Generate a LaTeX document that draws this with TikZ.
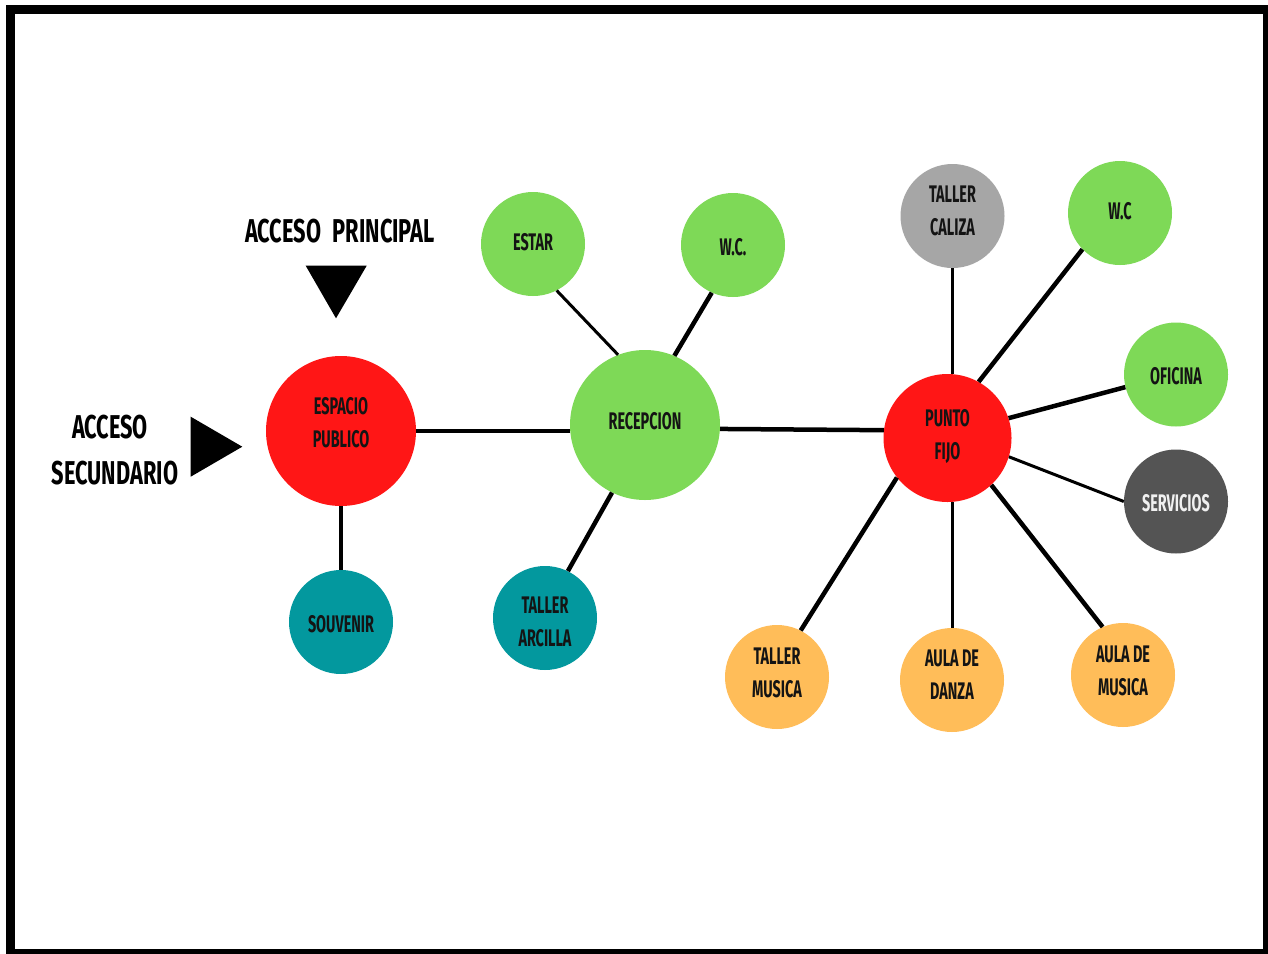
\documentclass[tikz,border=0pt]{standalone}
\usepackage{fontspec}
\newfontfamily\labfont{Fira Sans}[FakeStretch=0.6]
\newfontfamily\headfont{Fira Sans}[FakeStretch=0.66]
\definecolor{cred}{HTML}{FF1616}
\definecolor{cgreen}{HTML}{7ED957}
\definecolor{cteal}{HTML}{03989E}
\definecolor{cgray}{HTML}{A6A6A6}
\definecolor{cdark}{HTML}{545454}
\definecolor{corange}{HTML}{FFBD59}
\definecolor{ctext}{HTML}{141414}
\tikzset{
  bub/.style={circle, inner sep=0pt, fill=#1, draw=none},
  bigb/.style={minimum size=150pt},
  midb/.style={minimum size=128pt},
  smallb/.style={minimum size=104pt},
  lab/.style={inner sep=0pt, align=center, text=ctext, font=\labfont\bfseries\fontsize{24}{33}\selectfont},
  head/.style={inner sep=0pt, align=center, text=black, font=\headfont\bfseries\fontsize{33}{46}\selectfont},
  thin/.style={line width=3pt, black},
  thick/.style={line width=4.5pt, black},
  tri/.style={fill=black, draw=none}
}
\begin{document}
\begin{tikzpicture}[x=1pt, y=-1pt]
\useasboundingbox (0,0) rectangle (1268,953);
\fill[white] (0,0) rectangle (1268,953);
\draw[line width=9pt] (10.5,9) rectangle (1267.5,953.5);

% circles
\node[bub=cred, bigb] (esp) at (341,431) {};
\node[bub=cteal, smallb] (souv) at (341,622) {};
\node[bub=cgreen, bigb] (rec) at (645,425) {};
\node[bub=cgreen, smallb] (estar) at (533,244) {};
\node[bub=cgreen, smallb] (wc1) at (733,245) {};
\node[bub=cteal, smallb] (arc) at (545,618) {};
\node[bub=cred, midb] (pf) at (947.5,438) {};
\node[bub=cgray, smallb] (cal) at (952.5,216) {};
\node[bub=cgreen, smallb] (wc2) at (1120,213) {};
\node[bub=cgreen, smallb] (ofi) at (1176,374.5) {};
\node[bub=cdark, smallb] (serv) at (1176,501.5) {};
\node[bub=corange, smallb] (tmus) at (777,677) {};
\node[bub=corange, smallb] (danza) at (952,680) {};
\node[bub=corange, smallb] (amus) at (1123,675) {};

% labels
\node[lab] (esp-t) at ([yshift=8pt]esp) {ESPACIO\\PUBLICO};
\node[lab] (souv-t) at ([yshift=-2pt]souv) {SOUVENIR};
\node[lab] (rec-t) at ([yshift=4pt]rec) {RECEPCION};
\node[lab] (estar-t) at ([yshift=2pt]estar) {ESTAR};
\node[lab] (wc1-t) at ([yshift=-2pt]wc1) {W.C.};
\node[lab] (arc-t) at ([yshift=-4pt]arc) {TALLER\\ARCILLA};
\node[lab] (pf-t) at ([yshift=1pt]pf) {PUNTO\\FIJO};
\node[lab] (cal-t) at ([yshift=5pt]cal) {TALLER\\CALIZA};
\node[lab] (wc2-t) at ([yshift=2pt]wc2) {W.C};
\node[lab] (ofi-t) at ([yshift=-1.5pt]ofi) {OFICINA};
\node[lab, text=white!94!black] (serv-t) at ([yshift=-1.5pt]serv) {SERVICIOS};
\node[lab] (tmus-t) at ([yshift=4pt]tmus) {TALLER\\MUSICA};
\node[lab] (danza-t) at ([yshift=5pt]danza) {AULA DE\\DANZA};
\node[lab] (amus-t) at ([yshift=4pt]amus) {AULA DE\\MUSICA};

% headings and access markers
\node[head] (ap) at (340,231) {ACCESO\hspace{0.35em}PRINCIPAL};
\node[head] (as) at (115,450) {\hspace*{-10pt}ACCESO\\SECUNDARIO};
\coordinate (apA) at (305.7,265.7);
\coordinate (apB) at (366.7,265.7);
\coordinate (apC) at (336,318.3);
\fill[tri] (apA) -- (apB) -- (apC) -- cycle;
\coordinate (asA) at (190.7,416.7);
\coordinate (asB) at (190.7,476.7);
\coordinate (asC) at (242.3,446.7);
\fill[tri] (asA) -- (asB) -- (asC) -- cycle;

% connectors
\draw[thick] (esp.east) -- (esp.east -| rec.west);
\draw[thick] (esp.south) -- (souv.north);
\draw[thin] (estar.-63) -- (rec.111);
\draw[thick] (wc1.-114) -- (rec.67);
\draw[thick] (rec.-116) -- (arc.64);
\draw[thick] (rec.-3) -- (pf.173);
\draw[thin] (cal.south) -- (cal.south |- pf.north);
\draw[thick] (pf.61) -- (wc2.-136);
\draw[thick] (pf.18) -- (ofi.-166);
\draw[thin] (pf.-17) -- (serv.180);
\draw[thick] (pf.-142) -- (tmus.63);
\draw[thin] (danza.north |- pf.south) -- (danza.north);
\draw[thick] (pf.-47) -- (amus.113);
\end{tikzpicture}
\end{document}
